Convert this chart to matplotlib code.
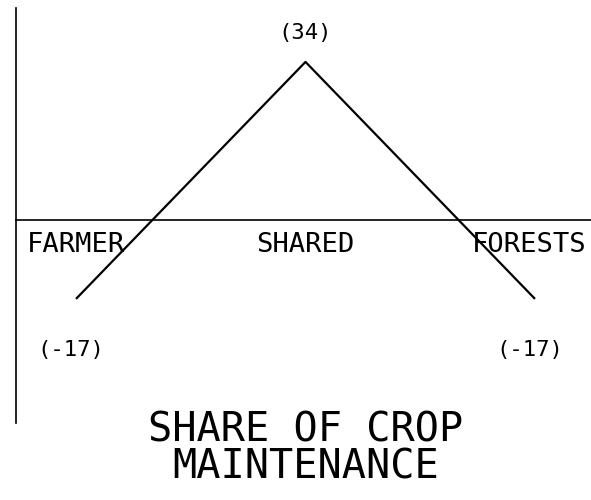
import matplotlib
matplotlib.use('Agg')
import matplotlib.pyplot as plt

categories = ['FARMER', 'SHARED', 'FORESTS']
shares = [-17, 34, -17]
value_labels = ['(-17)', '(34)', '(-17)']
title_lines = ['SHARE OF CROP', 'MAINTENANCE']


def draw_chart(out_file):
    fig = plt.figure(figsize=(5.91, 5.0), dpi=100)
    ax = fig.add_axes([16 / 591, 1 - 423 / 500, 1 - 16 / 591, (423 - 8) / 500])

    x = list(range(len(categories)))
    ax.plot(x, shares, color='black', linewidth=1.6, solid_capstyle='butt')

    ax.set_xlim(-0.2614, 2.244)
    ax.set_ylim(-43.7, 45.6)

    # plotter style axes: left line and a baseline at zero, nothing else
    ax.spines['top'].set_visible(False)
    ax.spines['right'].set_visible(False)
    ax.spines['bottom'].set_position(('data', 0))
    ax.spines['left'].set_linewidth(1.2)
    ax.spines['bottom'].set_linewidth(1.2)
    ax.set_xticks([])
    ax.set_yticks([])

    mono = 'DejaVu Sans Mono'
    last = len(categories) - 1
    for i, name in enumerate(categories):
        if i == last:
            # last label would run off the page, pin it to the right edge
            ax.annotate(name, xy=(1.0, 0), xycoords=('axes fraction', 'data'),
                        xytext=(-3, -18), textcoords='offset points',
                        ha='right', va='center', fontsize=19.5, family=mono)
        else:
            ax.annotate(name, xy=(i, 0), xytext=(0, -18), textcoords='offset points',
                        ha='center', va='center', fontsize=19.5, family=mono)

    for i, lab in enumerate(value_labels):
        if shares[i] > 0:
            off = (0, 21)
        else:
            off = (-4, -37)
        ax.annotate(lab, xy=(i, shares[i]), xytext=off, textcoords='offset points',
                    ha='center', va='center', fontsize=16, family=mono)

    fig.text(306 / 591, 1 - 449 / 500, '\n'.join(title_lines), ha='center', va='center',
             fontsize=29, family=mono, linespacing=0.88)

    fig.savefig(out_file, dpi=100)


if __name__ == '__main__':
    draw_chart('out.png')
